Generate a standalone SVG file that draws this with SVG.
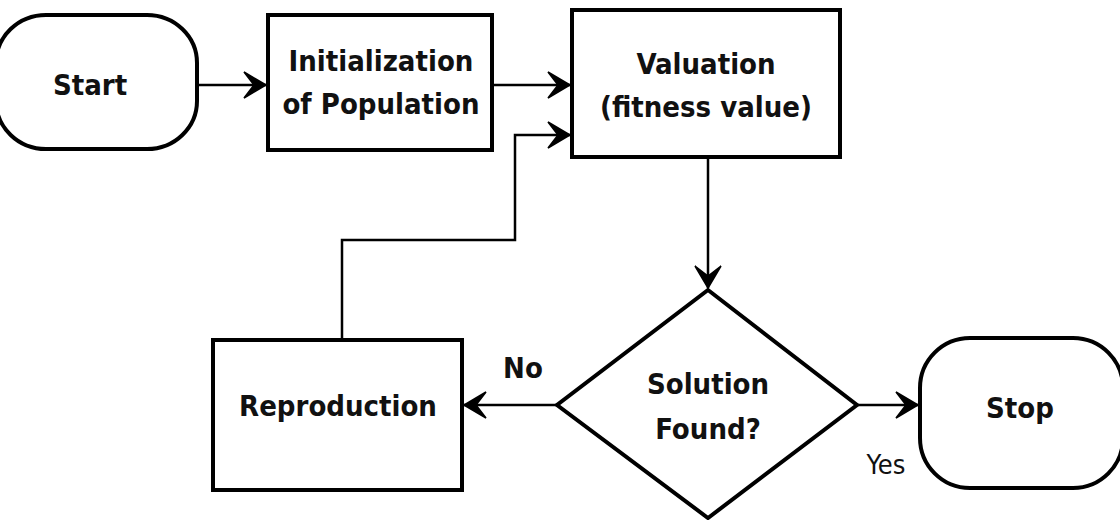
<svg xmlns="http://www.w3.org/2000/svg" width="1120" height="520" viewBox="0 0 1120 520">
<defs>
<style>
.shape{fill:#fff;stroke:#000;stroke-width:4}
.conn{fill:none;stroke:#000;stroke-width:2.5}
.t{font-family:"DejaVu Sans Condensed","DejaVu Sans",sans-serif;font-stretch:condensed;font-weight:bold;font-size:29px;fill:#111;text-anchor:middle}
.lbl{font-family:"DejaVu Sans Condensed","DejaVu Sans",sans-serif;font-stretch:condensed;font-size:27px;fill:#111;text-anchor:middle}
</style>
<marker id="arr" viewBox="-24 -15 26 30" refX="0" refY="0" markerWidth="26" markerHeight="30" markerUnits="userSpaceOnUse" orient="auto">
<path d="M0,0 L-22,-13 L-12,0 L-22,13 Z" fill="#000" stroke="#000" stroke-width="1.5" stroke-linejoin="miter"/>
</marker>
</defs>
<rect width="1120" height="520" fill="#fff"/>
<g id="connectors">
<path class="conn" d="M198,85 H266" marker-end="url(#arr)"/>
<path class="conn" d="M492,85 H570" marker-end="url(#arr)"/>
<path class="conn" d="M342,340 V240 H515 V135 H570" marker-end="url(#arr)"/>
<path class="conn" d="M708,157 V288" marker-end="url(#arr)"/>
<path class="conn" d="M557,405 H464" marker-end="url(#arr)"/>
<path class="conn" d="M857,405 H918" marker-end="url(#arr)"/>
<text class="t" x="523" y="378">No</text>
<text class="lbl" x="886" y="474">Yes</text>
</g>
<g id="start">
<rect class="shape" x="-4" y="15" width="201" height="134" rx="50" ry="48"/>
<text class="t" x="90" y="95">Start</text>
</g>
<g id="init">
<rect class="shape" x="268" y="15" width="224" height="135"/>
<text class="t" x="381" y="71">Initialization</text>
<text class="t" x="381" y="114">of Population</text>
</g>
<g id="valuation">
<rect class="shape" x="572" y="10" width="268" height="147"/>
<text class="t" x="706" y="74">Valuation</text>
<text class="t" x="706" y="117">(fitness value)</text>
</g>
<g id="decision">
<polygon class="shape" points="708,290 857,405 708,518 557,405"/>
<text class="t" x="708" y="394">Solution</text>
<text class="t" x="708" y="439">Found?</text>
</g>
<g id="reproduction">
<rect class="shape" x="213" y="340" width="249" height="150"/>
<text class="t" x="338" y="416">Reproduction</text>
</g>
<g id="stop">
<rect class="shape" x="920" y="338" width="203" height="150" rx="50" ry="50"/>
<text class="t" x="1020" y="418">Stop</text>
</g>
</svg>
